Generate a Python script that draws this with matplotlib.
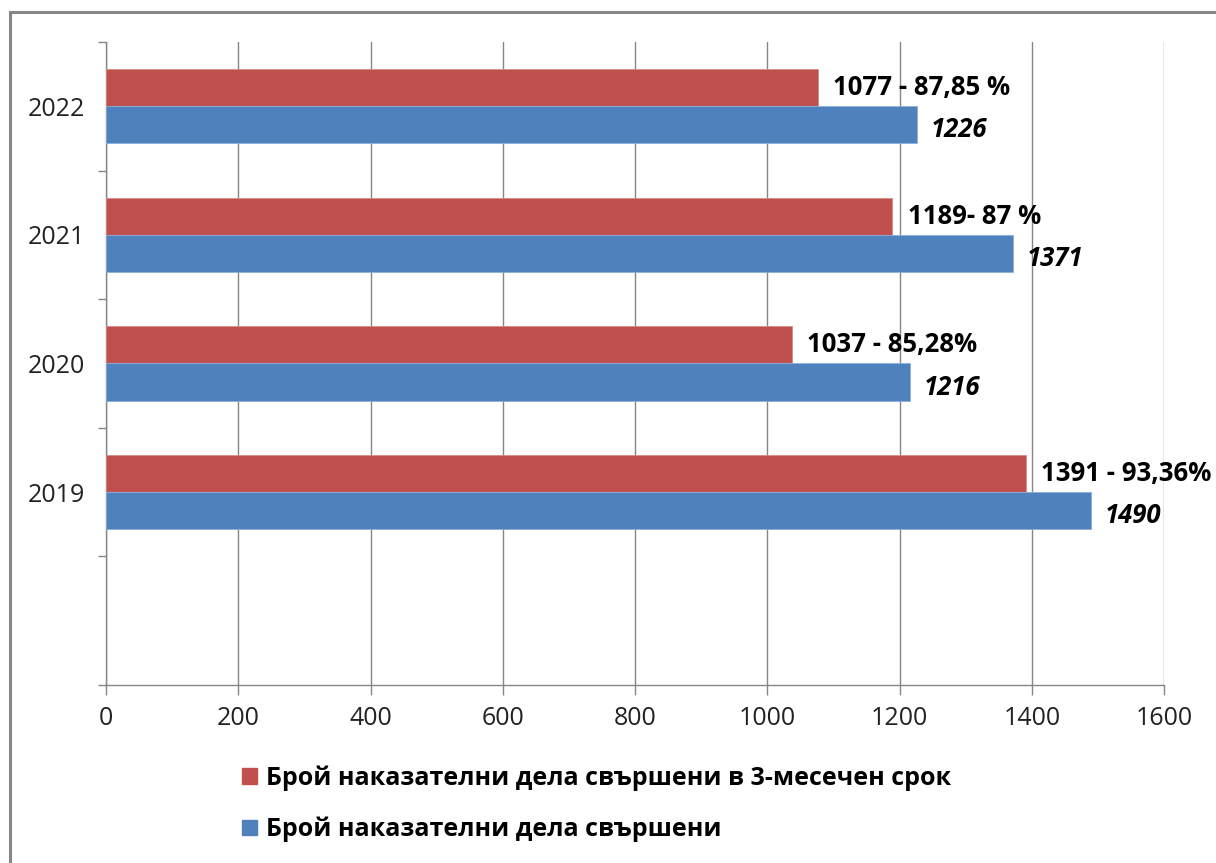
import matplotlib
matplotlib.use("Agg")
import matplotlib.pyplot as plt
from matplotlib.patches import Rectangle, Patch

plt.rcParams["font.family"] = ["Open Sans", "DejaVu Sans"]

years = ["2019", "2020", "2021", "2022"]
done_total = [1490, 1216, 1371, 1226]
done_3m = [1391, 1037, 1189, 1077]
labels_3m = ["1391 - 93,36%", "1037 - 85,28%", "1189- 87 %", "1077 - 87,85 %"]
labels_total = ["1490", "1216", "1371", "1226"]
legend_3m = "Брой наказателни дела свършени в 3-месечен срок"
legend_total = "Брой наказателни дела свършени"
x_ticks = [0, 200, 400, 600, 800, 1000, 1200, 1400, 1600]

RED = "#C0504D"
BLUE = "#4F81BD"
GRAY = "#868686"

fig = plt.figure(figsize=(12.16, 8.63), dpi=100)
# рамка около диаграмата (излиза извън десния и долния ръб)
fig.patches.append(Rectangle((10 / 1216, -0.05), 1.2, 1 - 12 / 863 + 0.05,
                             transform=fig.transFigure, fill=False,
                             edgecolor=GRAY, linewidth=2.2))

ax = fig.add_axes([106 / 1216, 1 - 685 / 863, 1058 / 1216, 643 / 863])

pos = list(range(len(years)))
h = 0.288
ax.barh([p + h / 2 for p in pos], done_3m, height=h, color=RED,
        edgecolor="#d98a88", linewidth=0.6, zorder=3)
ax.barh([p - h / 2 for p in pos], done_total, height=h, color=BLUE,
        edgecolor="#8aaedb", linewidth=0.6, zorder=3)

for p, v, t in zip(pos, done_3m, labels_3m):
    ax.annotate(t, (v, p + h / 2), xytext=(11, 0), textcoords="offset points",
                va="center", ha="left", fontsize=18.5, fontweight="bold")
for p, v, t in zip(pos, done_total, labels_total):
    ax.annotate(t, (v, p - h / 2 - 0.04), xytext=(10, 0), textcoords="offset points",
                va="center", ha="left", fontsize=18.5, fontweight="bold", style="italic")

ax.set_xlim(0, 1600)
ax.set_ylim(-1.5, 3.5)
ax.set_xticks(x_ticks)
ax.set_xticklabels([str(t) for t in x_ticks], fontsize=18, color="#222222")
ax.set_yticks([-1.5, -0.5, 0.5, 1.5, 2.5, 3.5])
ax.set_yticklabels([])
ax.set_yticks(pos, minor=True)
ax.set_yticklabels(years, minor=True, fontsize=18, color="#222222")
ax.tick_params(axis="y", which="minor", length=0, pad=15)
ax.tick_params(axis="y", which="major", length=6, color=GRAY, width=1)
ax.tick_params(axis="x", length=7, color=GRAY, width=1, pad=8)

ax.grid(axis="x", color=GRAY, linewidth=1, zorder=0)
ax.set_axisbelow(True)
for s in ["top", "right"]:
    ax.spines[s].set_visible(False)
for s in ["left", "bottom"]:
    ax.spines[s].set_color(GRAY)
    ax.spines[s].set_linewidth(1)

handles = [Patch(facecolor=RED, edgecolor=RED), Patch(facecolor=BLUE, edgecolor=BLUE)]
fig.legend(handles, [legend_3m, legend_total], loc="upper left",
           bbox_to_anchor=(232 / 1216, 1 - 755 / 863), frameon=False,
           prop={"size": 18, "weight": "bold"}, handlelength=0.6, handleheight=0.6,
           handletextpad=0.35, labelspacing=1.05, borderaxespad=0)

fig.savefig("out.png", dpi=100)
